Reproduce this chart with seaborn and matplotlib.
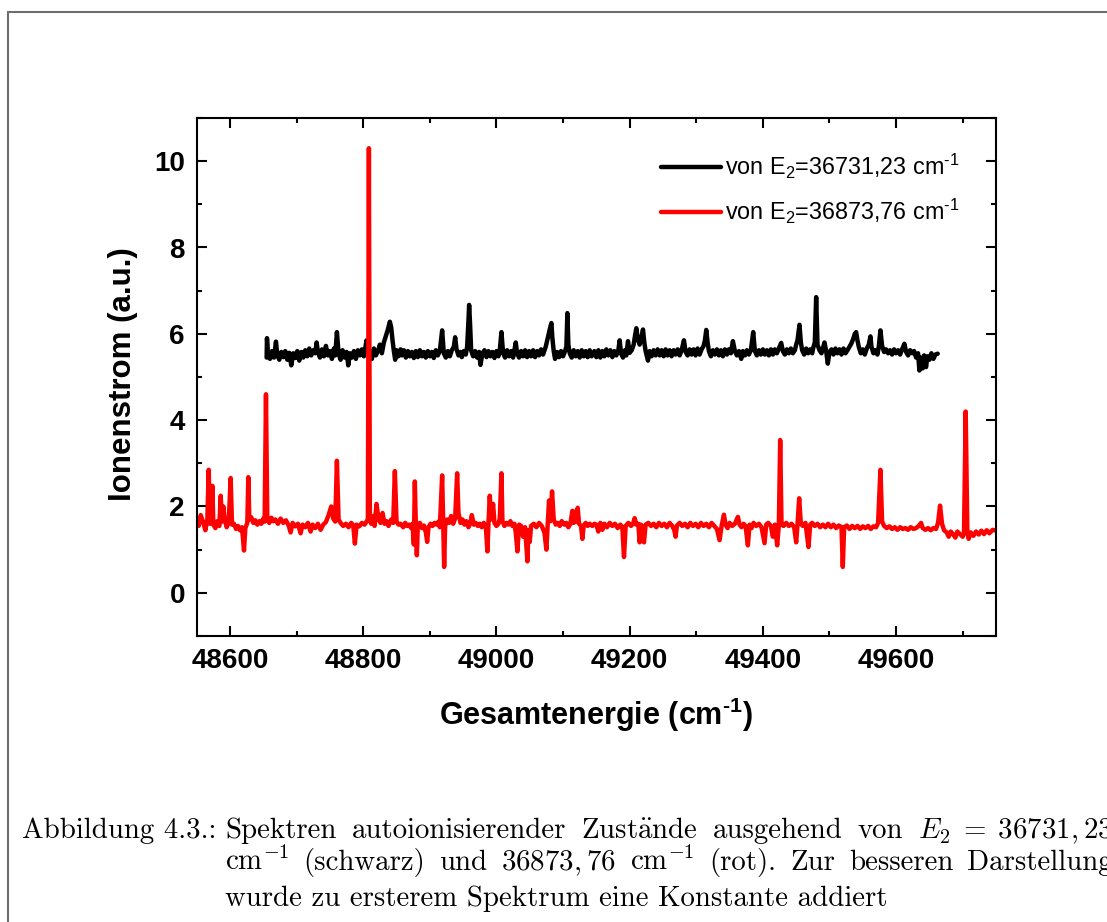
import matplotlib
matplotlib.use("Agg")
import matplotlib.pyplot as plt
from matplotlib.lines import Line2D
from matplotlib.ticker import MultipleLocator
import seaborn as sns

# Spectrum starting from E2 = 36731.23 cm^-1 (shifted by a constant)
black_energy = [
    48655, 48655.5, 48657, 48660, 48663, 48666, 48669, 48671, 48674, 48677,
    48680, 48683, 48686, 48689, 48692, 48695, 48698, 48701, 48704, 48707,
    48710, 48713, 48716, 48719, 48722, 48725, 48728, 48730, 48732, 48735,
    48738, 48741, 48744, 48747, 48750, 48753, 48756, 48758, 48760.5, 48763,
    48766, 48769, 48772, 48775, 48777.5, 48780, 48783, 48786, 48789, 48792,
    48795, 48798, 48801, 48805, 48807, 48810, 48813, 48816, 48819, 48822,
    48825, 48828, 48831, 48834, 48837, 48840, 48842, 48844, 48846, 48848,
    48850, 48853, 48856, 48858, 48861, 48864, 48867, 48870, 48873, 48876,
    48879, 48882, 48885, 48888, 48891, 48894, 48897, 48900, 48903, 48906,
    48909, 48912, 48915, 48918.5, 48921, 48924, 48927, 48930, 48933, 48936,
    48938, 48940, 48943, 48946, 48948, 48951, 48954, 48956, 48958, 48959,
    48960.5, 48962, 48965, 48968, 48971, 48974, 48976, 48979, 48982, 48985,
    48988, 48991, 48994, 48997, 49000, 49003, 49005, 49007.5, 49010, 49013,
    49016, 49019, 49022, 49025, 49029, 49031, 49034, 49037, 49040, 49043,
    49046, 49049, 49052, 49055, 49058, 49061, 49064, 49067, 49070, 49074,
    49077, 49080, 49082.5, 49084, 49086, 49088, 49091, 49094, 49097, 49100,
    49103, 49105, 49106.5, 49108, 49110, 49113, 49116, 49119, 49122, 49125,
    49128, 49131, 49134, 49137, 49140, 49143, 49147, 49150, 49153, 49156,
    49159, 49162, 49165, 49168, 49171, 49174, 49177, 49180, 49183, 49185,
    49187, 49190, 49193, 49195, 49197.5, 49200, 49203, 49206, 49208, 49210,
    49212, 49215, 49218, 49220, 49222, 49224, 49227.5, 49230, 49233, 49236,
    49239, 49242, 49245, 49248, 49251, 49254, 49257, 49260, 49263, 49266,
    49269, 49272, 49275, 49278, 49281.5, 49284, 49287, 49290, 49293, 49296,
    49299, 49302, 49305, 49308, 49311, 49313, 49315, 49317, 49319, 49322,
    49325, 49328, 49331, 49334, 49337, 49340, 49343, 49346, 49349, 49352,
    49355, 49358, 49361, 49364, 49367.5, 49370, 49373, 49376, 49379, 49382,
    49385.5, 49388, 49391, 49394, 49397, 49400, 49403, 49406, 49409, 49412,
    49415, 49418, 49421, 49424, 49427.5, 49430, 49433, 49436, 49439, 49442,
    49445, 49448, 49450, 49452, 49455, 49457, 49459, 49462, 49465, 49468,
    49471, 49474, 49476, 49478, 49480, 49482, 49485, 49488, 49490, 49492.5,
    49495, 49497.5, 49500, 49503, 49506, 49509, 49512, 49515, 49518, 49521,
    49524, 49527, 49530, 49533, 49536, 49538, 49540, 49542, 49544, 49547,
    49550, 49553, 49556, 49559, 49561.5, 49563, 49566, 49569, 49572, 49574,
    49576.5, 49579, 49582, 49585, 49588, 49591, 49594, 49597, 49600, 49603,
    49606, 49609, 49612.5, 49615, 49618, 49621, 49624, 49627, 49630, 49633,
    49635, 49637, 49640, 49642, 49645, 49647, 49650, 49653, 49656, 49659,
    49662.5,
]
black_signal = [
    5.45, 5.90, 5.55, 5.42, 5.60, 5.45, 5.82, 5.50, 5.40, 5.58,
    5.46, 5.60, 5.40, 5.56, 5.27, 5.55, 5.44, 5.60, 5.38, 5.58,
    5.45, 5.62, 5.48, 5.66, 5.50, 5.62, 5.55, 5.80, 5.58, 5.45,
    5.64, 5.48, 5.72, 5.50, 5.60, 5.42, 5.66, 5.50, 6.04, 5.55,
    5.40, 5.62, 5.45, 5.58, 5.27, 5.55, 5.45, 5.60, 5.42, 5.62,
    5.50, 5.64, 5.48, 5.85, 5.55, 5.60, 5.42, 5.66, 5.50, 5.60,
    5.75, 5.55, 5.80, 5.95, 6.10, 6.28, 6.15, 5.85, 5.60, 5.40,
    5.62, 5.48, 5.64, 5.50, 5.62, 5.45, 5.60, 5.48, 5.58, 5.44,
    5.60, 5.46, 5.62, 5.48, 5.58, 5.45, 5.60, 5.48, 5.58, 5.44,
    5.62, 5.50, 5.60, 6.08, 5.55, 5.45, 5.60, 5.48, 5.62, 5.70,
    5.92, 5.65, 5.50, 5.58, 5.46, 5.60, 5.52, 5.70, 6.30, 6.67,
    6.20, 5.62, 5.48, 5.60, 5.45, 5.58, 5.28, 5.55, 5.62, 5.46,
    5.60, 5.48, 5.58, 5.44, 5.60, 5.48, 5.62, 6.04, 5.55, 5.45,
    5.62, 5.48, 5.60, 5.45, 5.80, 5.55, 5.45, 5.60, 5.48, 5.62,
    5.46, 5.60, 5.48, 5.62, 5.46, 5.60, 5.50, 5.64, 5.52, 5.70,
    5.90, 6.10, 6.25, 5.90, 5.60, 5.42, 5.58, 5.46, 5.60, 5.48,
    5.60, 5.70, 6.48, 5.75, 5.55, 5.45, 5.62, 5.48, 5.60, 5.45,
    5.62, 5.48, 5.60, 5.46, 5.62, 5.48, 5.60, 5.46, 5.62, 5.45,
    5.60, 5.48, 5.64, 5.50, 5.62, 5.46, 5.60, 5.50, 5.62, 5.85,
    5.55, 5.45, 5.62, 5.50, 5.83, 5.56, 5.62, 5.75, 5.95, 6.13,
    5.90, 5.75, 5.95, 6.10, 5.80, 5.60, 5.38, 5.60, 5.48, 5.62,
    5.50, 5.64, 5.50, 5.62, 5.48, 5.64, 5.50, 5.62, 5.48, 5.62,
    5.52, 5.64, 5.50, 5.62, 5.85, 5.58, 5.50, 5.64, 5.52, 5.64,
    5.50, 5.66, 5.52, 5.64, 5.72, 5.85, 6.09, 5.80, 5.60, 5.48,
    5.62, 5.52, 5.64, 5.50, 5.62, 5.48, 5.64, 5.52, 5.64, 5.55,
    5.83, 5.60, 5.50, 5.60, 5.42, 5.60, 5.50, 5.62, 5.52, 5.62,
    6.04, 5.60, 5.50, 5.62, 5.52, 5.64, 5.52, 5.62, 5.50, 5.64,
    5.52, 5.64, 5.55, 5.66, 5.79, 5.60, 5.52, 5.64, 5.55, 5.66,
    5.55, 5.62, 5.75, 5.85, 6.21, 5.80, 5.62, 5.52, 5.66, 5.55,
    5.64, 5.55, 5.70, 5.80, 6.85, 5.75, 5.62, 5.55, 5.66, 5.80,
    5.60, 5.31, 5.58, 5.64, 5.52, 5.66, 5.55, 5.64, 5.52, 5.66,
    5.55, 5.62, 5.70, 5.78, 5.90, 6.00, 6.04, 5.85, 5.70, 5.55,
    5.64, 5.52, 5.66, 5.75, 5.94, 5.70, 5.55, 5.62, 5.52, 5.70,
    6.08, 5.72, 5.58, 5.64, 5.55, 5.62, 5.52, 5.64, 5.55, 5.62,
    5.52, 5.64, 5.77, 5.58, 5.50, 5.62, 5.55, 5.60, 5.45, 5.55,
    5.15, 5.45, 5.20, 5.50, 5.23, 5.48, 5.40, 5.55, 5.42, 5.52,
    5.54,
]

# Spectrum starting from E2 = 36873.76 cm^-1
red_energy = [
    48550, 48553, 48556, 48560, 48563, 48566, 48568, 48570, 48572, 48573.5,
    48575, 48578, 48581, 48584, 48586, 48588, 48590, 48592, 48595, 48598,
    48601, 48603, 48606, 48609, 48612, 48615, 48618, 48621, 48623, 48626,
    48627.5, 48629, 48632, 48635, 48638, 48641, 48644, 48647, 48650, 48652,
    48654, 48656, 48659, 48662, 48665, 48668, 48672, 48676, 48680, 48684,
    48688, 48691, 48694, 48698, 48702, 48706, 48709, 48713, 48717, 48721,
    48724, 48728, 48732, 48736, 48740, 48744, 48748, 48752, 48755, 48758,
    48760.5, 48763, 48766, 48770, 48774, 48778, 48782, 48785, 48787.5, 48790,
    48794, 48798, 48802, 48805, 48807, 48808.5, 48810, 48812, 48815, 48817,
    48820, 48823, 48826, 48829, 48832, 48835, 48838, 48842, 48845, 48847.5,
    48850, 48853, 48856, 48860, 48863, 48866, 48869, 48872, 48874, 48876,
    48877.5, 48879, 48880.5, 48882, 48885, 48888, 48891, 48894, 48896, 48898,
    48901, 48904, 48907, 48910, 48913, 48915, 48918.5, 48920, 48921.5, 48923,
    48926, 48929, 48932, 48935, 48938, 48941, 48943, 48946, 48949, 48952,
    48955, 48958, 48961, 48963, 48966, 48969, 48972, 48975, 48978, 48981,
    48984, 48986.5, 48988, 48990, 48992, 48995, 48997, 49000, 49003, 49005,
    49007.5, 49009, 49012, 49015, 49018, 49021, 49024, 49027, 49029, 49031.5,
    49034, 49037, 49040, 49043, 49046.5, 49048, 49050, 49052, 49056, 49060,
    49064, 49068, 49072, 49075, 49077, 49079, 49081, 49083.5, 49086, 49089,
    49092, 49095, 49098, 49102, 49105, 49108, 49111, 49114, 49116, 49118,
    49120, 49122, 49124, 49127, 49129, 49131, 49134, 49137, 49140, 49144,
    49147, 49150, 49153, 49156, 49159, 49162, 49166, 49170, 49174, 49178,
    49182, 49186, 49189, 49191.5, 49194, 49198, 49202, 49205, 49207.5, 49210,
    49213, 49215, 49217, 49219, 49221.5, 49224, 49228, 49232, 49236, 49240,
    49244, 49248, 49252, 49256, 49260, 49264, 49267, 49269, 49271, 49275,
    49279, 49283, 49287, 49291, 49295, 49299, 49303, 49307, 49311, 49315,
    49319, 49323, 49327, 49331, 49335, 49338, 49341.5, 49344, 49347, 49350,
    49354, 49358, 49362.5, 49365, 49368, 49371, 49374, 49377.5, 49380, 49383,
    49386, 49390, 49394, 49398, 49402.5, 49405, 49408, 49412, 49415, 49418,
    49421.5, 49424, 49426, 49428, 49431, 49435, 49439, 49443, 49447, 49450,
    49452, 49454.5, 49457, 49460, 49464, 49468.5, 49471, 49474, 49478, 49482,
    49486, 49490, 49494, 49498, 49502, 49506, 49510, 49514, 49518, 49520,
    49522, 49526, 49530, 49534, 49538, 49542, 49546, 49550, 49554, 49558,
    49562, 49566, 49570, 49573, 49576.5, 49579, 49582, 49586, 49590, 49594,
    49598, 49602, 49606, 49610, 49614, 49618, 49622, 49626, 49630, 49634,
    49637.5, 49640, 49644, 49648, 49652, 49656, 49660, 49663, 49666, 49669,
    49672, 49676, 49679, 49682, 49686, 49689, 49692, 49696, 49700, 49702,
    49704.5, 49707, 49709, 49712, 49716, 49720, 49724, 49728, 49732, 49736,
    49740, 49745, 49750,
]
red_signal = [
    1.72, 1.55, 1.80, 1.62, 1.45, 1.70, 2.85, 1.60, 1.75, 2.48,
    1.58, 1.50, 1.66, 1.55, 2.25, 1.65, 2.00, 1.70, 1.52, 1.62,
    2.66, 1.58, 1.60, 1.48, 1.55, 1.45, 1.52, 0.98, 1.50, 1.62,
    2.68, 1.70, 1.75, 1.62, 1.68, 1.58, 1.66, 1.60, 1.72, 1.65,
    4.60, 1.70, 1.62, 1.74, 1.66, 1.70, 1.60, 1.72, 1.62, 1.68,
    1.56, 1.40, 1.62, 1.54, 1.60, 1.38, 1.58, 1.52, 1.62, 1.42,
    1.58, 1.50, 1.60, 1.46, 1.58, 1.64, 1.80, 2.00, 1.72, 1.65,
    3.06, 1.70, 1.62, 1.55, 1.60, 1.52, 1.62, 1.56, 1.14, 1.58,
    1.54, 1.62, 1.58, 1.65, 1.70, 10.30, 1.68, 1.60, 1.78, 1.55,
    2.06, 1.70, 1.62, 1.85, 1.60, 1.66, 1.55, 1.70, 1.62, 2.82,
    1.65, 1.58, 1.60, 1.52, 1.62, 1.55, 1.58, 1.50, 1.60, 1.12,
    2.58, 1.55, 0.87, 1.58, 1.62, 1.50, 1.56, 1.40, 1.18, 1.52,
    1.60, 1.55, 1.62, 1.58, 1.65, 1.52, 2.72, 1.60, 0.60, 1.55,
    1.70, 1.62, 1.78, 1.60, 1.72, 2.77, 1.85, 1.62, 1.70, 1.58,
    1.66, 1.52, 1.62, 1.80, 1.58, 1.62, 1.55, 1.60, 1.52, 1.62,
    1.55, 0.96, 1.60, 2.25, 1.70, 2.06, 1.62, 1.55, 1.60, 1.72,
    2.77, 1.66, 1.55, 1.62, 1.58, 1.66, 1.55, 1.60, 1.40, 0.96,
    1.58, 1.55, 1.30, 1.52, 0.73, 1.45, 1.18, 1.55, 1.60, 1.52,
    1.62, 1.55, 1.40, 1.00, 1.60, 2.14, 1.66, 2.35, 1.70, 1.58,
    1.62, 1.55, 1.66, 1.58, 1.62, 1.52, 1.60, 1.90, 1.62, 1.88,
    1.65, 1.97, 1.60, 1.55, 1.25, 1.56, 1.62, 1.55, 1.60, 1.55,
    1.60, 1.58, 1.42, 1.62, 1.46, 1.60, 1.52, 1.62, 1.55, 1.60,
    1.50, 1.58, 1.52, 0.83, 1.55, 1.62, 1.55, 1.60, 1.73, 1.58,
    1.60, 1.17, 1.58, 1.52, 1.17, 1.58, 1.62, 1.55, 1.60, 1.52,
    1.62, 1.55, 1.60, 1.52, 1.62, 1.55, 1.45, 1.30, 1.56, 1.62,
    1.55, 1.60, 1.52, 1.62, 1.55, 1.60, 1.52, 1.62, 1.55, 1.60,
    1.52, 1.62, 1.55, 1.48, 1.22, 1.55, 1.81, 1.58, 1.50, 1.62,
    1.55, 1.60, 1.76, 1.58, 1.52, 1.60, 1.55, 1.10, 1.58, 1.50,
    1.62, 1.55, 1.60, 1.52, 1.15, 1.58, 1.62, 1.55, 1.30, 1.58,
    1.10, 1.58, 3.54, 1.60, 1.55, 1.62, 1.55, 1.60, 1.52, 1.17,
    1.58, 2.19, 1.60, 1.55, 1.62, 1.06, 1.58, 1.62, 1.55, 1.60,
    1.52, 1.58, 1.52, 1.60, 1.52, 1.58, 1.50, 1.56, 1.52, 0.60,
    1.52, 1.56, 1.48, 1.55, 1.50, 1.55, 1.48, 1.54, 1.50, 1.55,
    1.48, 1.54, 1.52, 1.62, 2.85, 1.65, 1.55, 1.50, 1.54, 1.48,
    1.52, 1.46, 1.52, 1.48, 1.50, 1.46, 1.52, 1.48, 1.50, 1.55,
    1.62, 1.50, 1.46, 1.50, 1.45, 1.50, 1.48, 1.62, 2.02, 1.60,
    1.45, 1.40, 1.30, 1.42, 1.35, 1.28, 1.42, 1.36, 1.30, 1.40,
    4.20, 1.38, 1.25, 1.40, 1.32, 1.42, 1.35, 1.44, 1.36, 1.45,
    1.38, 1.46, 1.44,
]

legend_labels = ["von E$_2$=36731,23 cm$^{\u20101}$", "von E$_2$=36873,76 cm$^{\u20101}$"]
series_colors = ["#000000", "#ff0000"]
x_label = "Gesamtenergie (cm$^{\u20101}$)"
y_label = "Ionenstrom (a.u.)"
x_ticks = [48600, 48800, 49000, 49200, 49400, 49600]
y_ticks = [0, 2, 4, 6, 8, 10]

caption_tag = "Abbildung 4.3.:"
caption_line1 = ["Spektren", "autoionisierender", r"Zust$\ddot{\mathrm{a}}$nde", "ausgehend",
                 "von", r"$\mathit{E}_2\;=\;36731,23$"]
caption_line2 = ["cm$^{-1}$", "(schwarz)", "und", "$36873,76$", "cm$^{-1}$", "(rot).",
                 "Zur", "besseren", "Darstellung"]
caption_line3 = "wurde zu ersterem Spektrum eine Konstante addiert"

sns.set_theme(style="ticks")
plt.rcParams["font.family"] = ["Liberation Sans", "DejaVu Sans"]
plt.rcParams["mathtext.default"] = "regular"
plt.rcParams["mathtext.fontset"] = "cm"

W, H = 1107, 922
fig = plt.figure(figsize=(W / 100, H / 100), dpi=100)
fig.patch.set_facecolor("white")
ax = fig.add_axes([196.7 / W, 1 - 636 / H, 799.3 / W, 518 / H])
ax.set_facecolor("white")

sns.lineplot(x=black_energy, y=black_signal, ax=ax, color=series_colors[0],
             lw=3.2, sort=False, estimator=None)
sns.lineplot(x=red_energy, y=red_signal, ax=ax, color=series_colors[1],
             lw=3.2, sort=False, estimator=None)

ax.set_xlim(48550, 49750)
ax.set_ylim(-1, 11)
ax.set_xticks(x_ticks)
ax.set_yticks(y_ticks)
ax.xaxis.set_minor_locator(MultipleLocator(100))
ax.yaxis.set_minor_locator(MultipleLocator(1))
ax.tick_params(which="both", direction="in", top=True, right=True,
               width=1.5, color="black", labelcolor="black")
ax.tick_params(which="major", length=7, pad=8.5, labelsize=20)
ax.tick_params(which="minor", length=3.8)
for lbl in ax.get_xticklabels() + ax.get_yticklabels():
    lbl.set_fontweight("bold")
for sp in ax.spines.values():
    sp.set_linewidth(1.5)
    sp.set_color("black")

ax.set_xlabel(x_label, fontsize=22, fontweight="bold", color="black")
ax.set_ylabel(y_label, fontsize=22.5, fontweight="bold", color="black")
ax.xaxis.set_label_coords(0.5, -0.115)
ax.yaxis.set_label_coords(-0.073, 0.505)

leg = ax.legend(ax.lines[:2], legend_labels, loc="upper left",
                bbox_to_anchor=(661 / W, 1 - 152 / H), bbox_transform=fig.transFigure,
                frameon=False, fontsize=16.8, handlelength=2.55, handletextpad=0.2,
                labelspacing=0.67, borderpad=0, borderaxespad=0)
for t in leg.get_texts():
    t.set_color("black")

# page frame around the figure block
frame_kw = dict(transform=fig.transFigure, color="#6e6e6e", lw=1.5)
fig.add_artist(Line2D([8 / W, 8 / W], [0, 1 - 12 / H], **frame_kw))
fig.add_artist(Line2D([8 / W, 1], [1 - 12 / H, 1 - 12 / H], **frame_kw))

# caption set in a Computer Modern face, justified like a LaTeX paragraph
cap_font = dict(family="cmr10", size=20.8, color="black", va="baseline")
renderer = fig.canvas.get_renderer()


def px_text(x, y, s):
    return fig.text(x / W, 1 - y / H, s, **cap_font)


def justified(words, x0, x1, y):
    texts = [px_text(0, y, w) for w in words]
    widths = [t.get_window_extent(renderer).width for t in texts]
    gap = (x1 - x0 - sum(widths)) / (len(words) - 1)
    x = x0
    for t, w in zip(texts, widths):
        t.set_x(x / W)
        x += w + gap


body_left, body_right = 225, 1113
px_text(22, 838, caption_tag)
justified(caption_line1, body_left, body_right, 838)
justified(caption_line2, body_left, body_right, 870)
px_text(body_left, 906, caption_line3)

fig.savefig("out.png", dpi=100, facecolor="white")
